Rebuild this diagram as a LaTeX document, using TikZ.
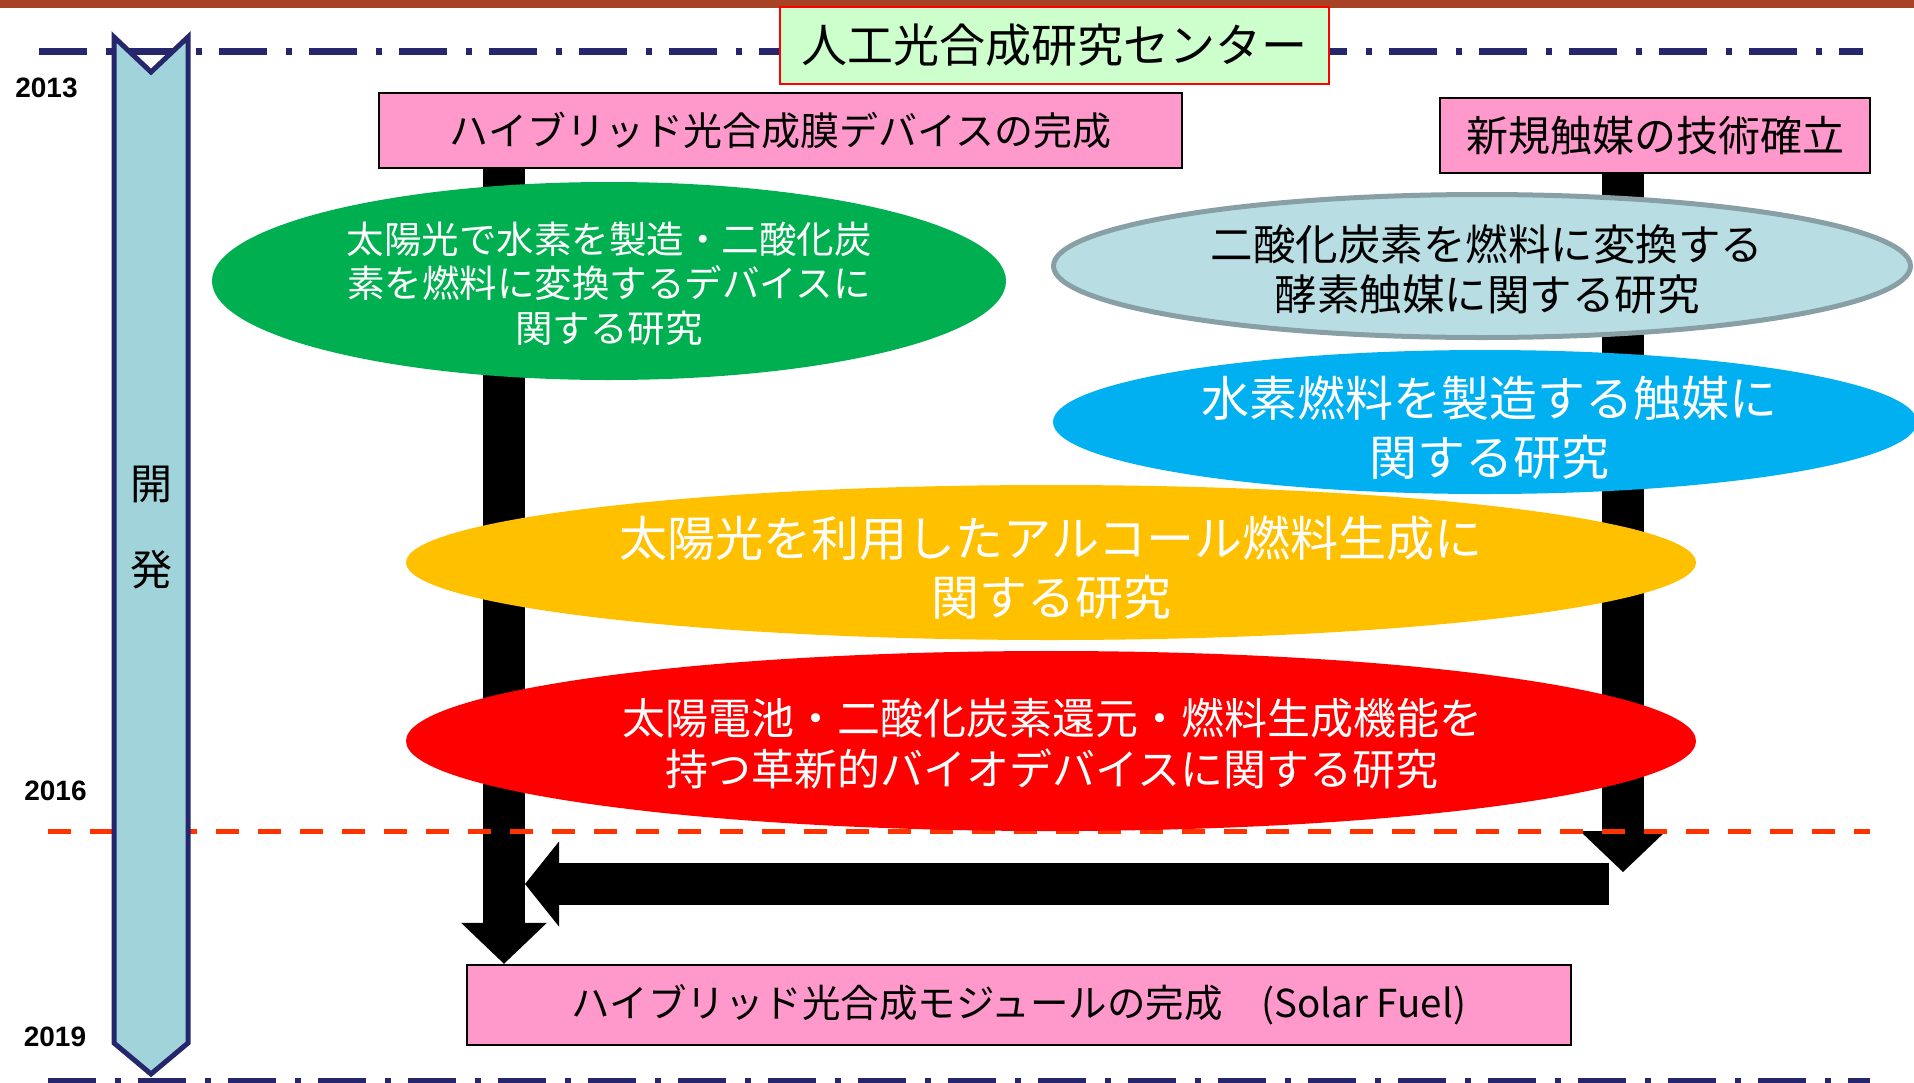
\documentclass[tikz,border=0pt]{standalone}
\usepackage{fontspec}
\newfontfamily\jp{Noto Sans CJK JP}
\newfontfamily\lat{Liberation Sans}
\usetikzlibrary{shapes.geometric,arrows.meta}
\definecolor{bandc}{RGB}{168,66,36}
\definecolor{navyc}{RGB}{38,38,108}
\definecolor{tlc}{RGB}{160,212,218}
\definecolor{pinkc}{RGB}{255,153,204}
\definecolor{titlec}{RGB}{204,255,204}
\definecolor{greenc}{RGB}{0,176,80}
\definecolor{palec}{RGB}{184,222,227}
\definecolor{palelinec}{RGB}{136,160,165}
\definecolor{bluec}{RGB}{0,176,240}
\definecolor{yellowc}{RGB}{255,192,0}
\definecolor{redc}{RGB}{255,0,0}
\definecolor{dashredc}{RGB}{255,51,0}
\begin{document}
\begin{tikzpicture}[x=1pt,y=-1pt,
  pinkbox/.style={rectangle, draw=black, line width=2.5pt, fill=pinkc, inner sep=0pt},
  oval/.style={ellipse, inner sep=0pt},
  ovaltext/.style={align=center, inner sep=0pt, text=white},
  blockarrow/.style={line width=42pt, -{Triangle[width=86pt,length=41pt,line width=0pt]}},
  blockarrowh/.style={line width=42pt, -{Triangle[width=85pt,length=34pt,line width=0pt]}},
  yearlabel/.style={inner sep=0pt, font={\lat\bfseries\fontsize{28pt}{32pt}\selectfont}},
  dashdot/.style={navyc, line width=7pt, dash pattern=on 48pt off 19pt on 6pt off 17pt},
]
\useasboundingbox (0,0) rectangle (1914,1082);
\clip (0,0) rectangle (1914,1082);

% top band
\fill[bandc] (0,0) rectangle (1914,8);

% dash-dot boundary lines
\draw[dashdot] (39,51.5) -- (1863,51.5);
\draw[dashdot] (48,1081) -- (1870,1081);

% milestone boxes
\node[pinkbox, minimum width=803pt, minimum height=75pt,
      font={\jp\fontsize{39pt}{44pt}\selectfont}] (box1) at (780.5,130.5)
      {ハイブリッド光合成膜デバイスの完成};
\node[pinkbox, minimum width=430pt, minimum height=75pt,
      font={\jp\fontsize{42pt}{46pt}\selectfont}] (box2) at (1655,135.5)
      {新規触媒の技術確立};
\node[pinkbox, minimum width=1104pt, minimum height=80pt,
      font={\jp\fontsize{38.5pt}{44pt}\selectfont}] (mod) at (1019,1005)
      {ハイブリッド光合成モジュールの完成　(Solar Fuel)};
\node[rectangle, draw=redc, line width=1.8pt, fill=titlec, inner sep=0pt,
      minimum width=549pt, minimum height=77pt,
      font={\jp\fontsize{46pt}{50pt}\selectfont}] (title) at (1054.5,45.5)
      {人工光合成研究センター};

% block arrows
\coordinate (xL) at (504,0);
\coordinate (rEnd) at (1623,872);
\coordinate (hStart) at (1609,884);
\coordinate (hEnd) at (525,884);
\draw[blockarrow] (box1.south -| xL) -- (mod.north -| xL);
\draw[blockarrow] (box2.south -| rEnd) -- (rEnd);
\draw[blockarrowh] (hStart) -- (hEnd);

% 2016 dashed line
\draw[dashredc, line width=5pt, dash pattern=on 23pt off 19pt] (48,831) -- (1870,831);

% research ovals
\node[oval, fill=greenc, minimum width=794pt, minimum height=198pt] (g) at (609,281) {};
\node[ovaltext, font={\jp\fontsize{37.5pt}{44.5pt}\selectfont}] (gt) at (609,283.5)
  {太陽光で水素を製造・二酸化炭\\素を燃料に変換するデバイスに\\関する研究};

\node[oval, fill=palec, draw=palelinec, line width=5pt, minimum width=857pt, minimum height=143pt] (p) at (1482,266) {};
\node[ovaltext, text=black, font={\jp\fontsize{42.5pt}{50pt}\selectfont}] (pt) at (1487,269)
  {二酸化炭素を燃料に変換する\\酵素触媒に関する研究};

\node[oval, fill=bluec, minimum width=864pt, minimum height=144pt] (b) at (1485,422) {};
\node[ovaltext, font={\jp\fontsize{48pt}{59pt}\selectfont}] (bt) at (1489,427.5)
  {水素燃料を製造する触媒に\\関する研究};

\node[oval, fill=yellowc, minimum width=1290pt, minimum height=155pt] (y) at (1051,562.5) {};
\node[ovaltext, font={\jp\fontsize{48pt}{59pt}\selectfont}] (yt) at (1051,567.5)
  {太陽光を利用したアルコール燃料生成に\\関する研究};

\node[oval, fill=redc, minimum width=1290pt, minimum height=180pt] (r) at (1051,741) {};
\node[ovaltext, font={\jp\fontsize{43pt}{51pt}\selectfont}] (rt) at (1052,743.5)
  {太陽電池・二酸化炭素還元・燃料生成機能を\\持つ革新的バイオデバイスに関する研究};

% development timeline arrow
\draw[navyc, line width=5pt, fill=tlc, line join=miter]
  (114,37) -- (151,72) -- (188,37) -- (188,1043) -- (151,1074) -- (114,1043) -- cycle;
\node[inner sep=0pt, font={\jp\fontsize{42pt}{46pt}\selectfont}] (k1) at (151,484) {開};
\node[inner sep=0pt, font={\jp\fontsize{42pt}{46pt}\selectfont}] (k2) at (151,570) {発};

% year labels
\node[yearlabel] (y2013) at (46.5,87.5) {2013};
\node[yearlabel] (y2016) at (55.5,791) {2016};
\node[yearlabel] (y2019) at (55,1037) {2019};
\end{tikzpicture}
\end{document}
